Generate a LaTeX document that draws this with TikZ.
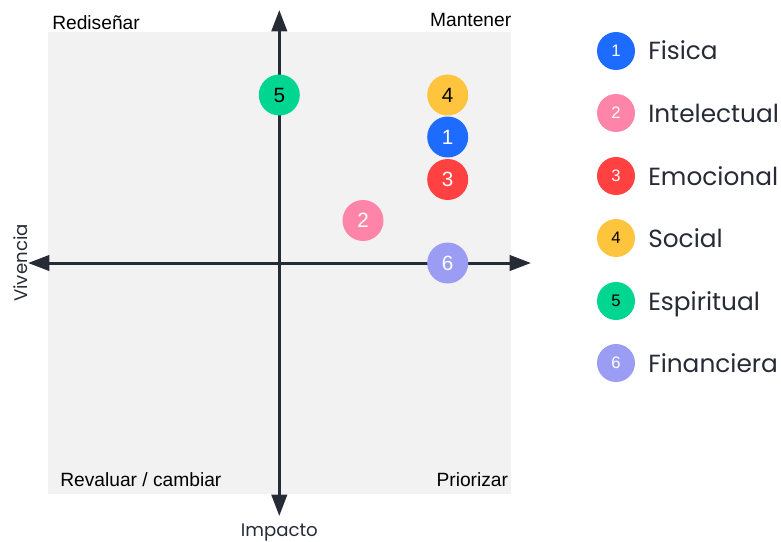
\documentclass[tikz,border=0pt]{standalone}
\usepackage{fontspec}
\setmainfont{Liberation Sans}
\newfontfamily\legfont{Poppins}
\usetikzlibrary{arrows.meta}

\definecolor{axisgray}{HTML}{272B35}
\definecolor{panelgray}{HTML}{F2F2F2}
\definecolor{cfisica}{HTML}{1D6BFF}
\definecolor{cintel}{HTML}{FF84A9}
\definecolor{cemo}{HTML}{FF4141}
\definecolor{csocial}{HTML}{FFC43D}
\definecolor{cespi}{HTML}{00D68F}
\definecolor{cfin}{HTML}{9A9DF3}

\tikzset{
  dot/.style={circle, inner sep=0pt, minimum size=30.75pt, font=\fontsize{15.5}{16}\selectfont},
  legdot/.style={circle, inner sep=0pt, minimum size=28.5pt, font=\fontsize{12.5}{13}\selectfont},
  quad/.style={inner sep=0pt, font=\fontsize{14.4}{15}\selectfont},
  legtext/.style={inner sep=0pt, text=axisgray, font=\legfont\fontsize{18.6}{20}\selectfont},
  axislab/.style={inner sep=0pt, text=axisgray, font=\legfont\fontsize{13.6}{14}\selectfont},
  axis/.style={draw=axisgray, line width=2.25pt, {Triangle[length=16pt,width=11.5pt]}-{Triangle[length=16pt,width=11.5pt]}}
}

\begin{document}
\begin{tikzpicture}[x=0.75pt,y=0.75pt,yscale=-1,xscale=1]
\useasboundingbox (0,0) rectangle (781,542);

%Shape: Rectangle (panel)
\fill [panelgray] (48,32) rectangle (511,494);

%Axes
\coordinate (ytop) at (279.3,10);
\coordinate (ybot) at (279.3,516);
\coordinate (xleft) at (28,263);
\coordinate (xright) at (531,263);
\draw [axis] (xleft) -- (xright);
\draw [axis] (ytop) -- (ybot);

% Quadrant labels
\node (qtl) [quad, anchor=base west] at (52,30) {Rediseñar};
\node (qtr) [quad, anchor=base east] at (511.5,26.7) {Mantener};
\node (qbl) [quad, anchor=base west] at (60,486) {Revaluar / cambiar};
\node (qbr) [quad, anchor=base east] at (508.3,486) {Priorizar};

% Axis labels
\node (impacto) [axislab, anchor=base] at (279.3,536.5) {Impacto};
\node (vivencia) [axislab, rotate=90, anchor=base] at (27.5,263) {Vivencia};

% Points
\node (p5) [dot, fill=cespi, text=black] at (279.3,95) {5};
\node (p4) [dot, fill=csocial, text=black] at (447.7,95) {4};
\node (p1) [dot, fill=cfisica, text=white] at (447.7,137) {1};
\node (p3) [dot, fill=cemo, text=white] at (447.7,179.5) {3};
\node (p2) [dot, fill=cintel, text=white] at (363,220.5) {2};
\node (p6) [dot, fill=cfin, text=white] at (447.7,263) {6};

% Legend
\node (l1) [legdot, fill=cfisica, text=white] at (616,51) {1};
\node (t1) [legtext, anchor=base west] at (648,60) {Fisica};
\node (l2) [legdot, fill=cintel, text=white] at (616,113) {2};
\node (t2) [legtext, anchor=base west] at (648,122) {Intelectual};
\node (l3) [legdot, fill=cemo, text=white] at (616,176) {3};
\node (t3) [legtext, anchor=base west] at (648,185) {Emocional};
\node (l4) [legdot, fill=csocial, text=black] at (616,238) {4};
\node (t4) [legtext, anchor=base west] at (648,247) {Social};
\node (l5) [legdot, fill=cespi, text=black] at (616,301) {5};
\node (t5) [legtext, anchor=base west] at (648,310) {Espiritual};
\node (l6) [legdot, fill=cfin, text=white] at (616,363) {6};
\node (t6) [legtext, anchor=base west] at (648,372) {Financiera};
\end{tikzpicture}
\end{document}
